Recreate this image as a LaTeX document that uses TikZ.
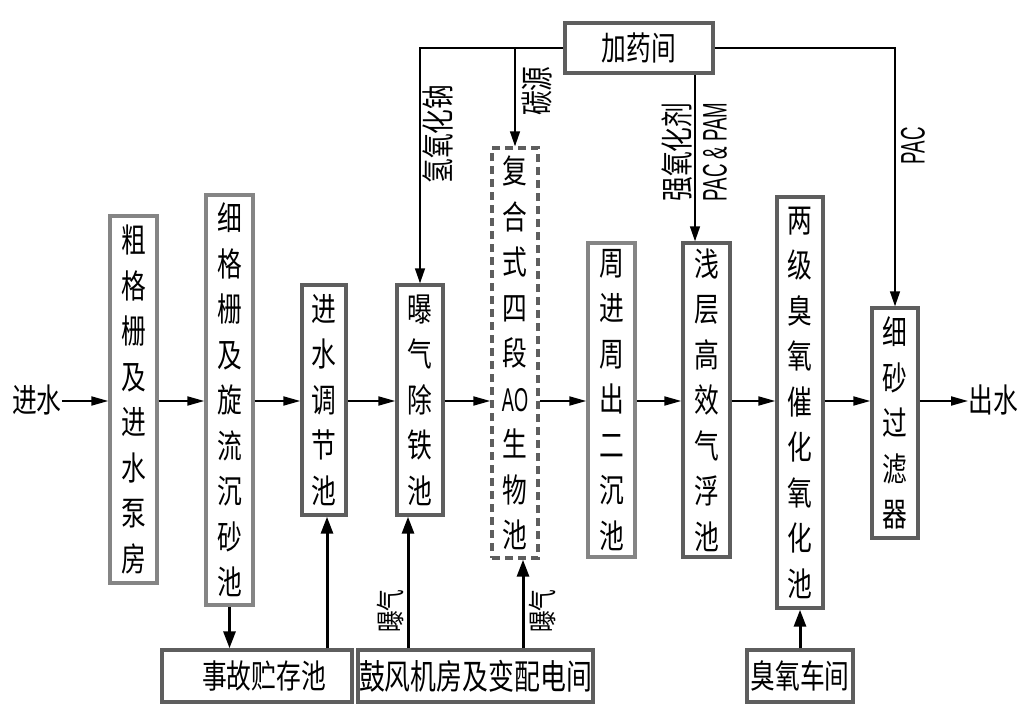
\documentclass[tikz,border=0pt]{standalone}
\usepackage{fontspec}
\newfontfamily\cjk[FakeStretch=0.75]{Noto Sans CJK SC}
\newfontfamily\narrowlat[FakeStretch=0.55]{Liberation Sans}
\usetikzlibrary{arrows.meta}
\definecolor{lightbox}{HTML}{858585}
\definecolor{darkbox}{HTML}{5E5E5E}
\begin{document}
\begin{tikzpicture}[x=1pt,y=-1pt,
  box/.style={draw=darkbox, line width=3.4pt, fill=white, inner sep=0pt, align=center,
    font=\cjk\fontsize{33}{45.5}\selectfont},
  lbox/.style={box, draw=lightbox},
  dbox/.style={box, dash pattern=on 8pt off 5pt},
  hbox/.style={draw=darkbox, line width=3.4pt, fill=white, inner sep=0pt,
    font=\cjk\fontsize{33}{33}\selectfont},
  lab/.style={inner sep=0pt, font=\cjk\fontsize{33}{33}\selectfont},
  slab/.style={inner sep=0pt, font=\cjk\fontsize{29}{29}\selectfont},
  latlab/.style={inner sep=0pt, font=\narrowlat\fontsize{34}{34}\selectfont},
  mainarr/.style={line width=1.9pt, -{Triangle[length=17pt,width=9pt]}},
  toparr/.style={line width=1.4pt, -{Triangle[length=15pt,width=10pt]}},
  botarr/.style={line width=3pt, -{Triangle[length=17pt,width=12pt]}}
]
\fill[white] (0,0) rectangle (1024,709);
\useasboundingbox (0,0) rectangle (1024,709);

% process boxes
\node[lbox, minimum width=47, minimum height=367] (b1) at (133.5,399.5)
  {粗\\格\\栅\\及\\进\\水\\泵\\房};
\node[lbox, minimum width=47, minimum height=410] (b2) at (229.5,400)
  {细\\格\\栅\\及\\旋\\流\\沉\\砂\\池};
\node[box, minimum width=44, minimum height=230] (b3) at (324,400)
  {进\\水\\调\\节\\池};
\node[box, minimum width=46, minimum height=230] (b4) at (420,400)
  {曝\\气\\除\\铁\\池};
\node[dbox, minimum width=46, minimum height=410] (b5) at (515,353)
  {复\\合\\式\\四\\段\\{\narrowlat AO}\\生\\物\\池};
\node[lbox, minimum width=47, minimum height=314] (b6) at (611.5,400)
  {周\\进\\周\\出\\二\\沉\\池};
\node[box, minimum width=47, minimum height=314] (b7) at (706.5,400)
  {浅\\层\\高\\效\\气\\浮\\池};
\node[box, minimum width=46, minimum height=411] (b8) at (800,402.5)
  {两\\级\\臭\\氧\\催\\化\\氧\\化\\池};
\node[box, minimum width=46, minimum height=230] (b9) at (895,423)
  {细\\砂\\过\\滤\\器};

% auxiliary buildings
\node[hbox, minimum width=148, minimum height=50] (jy) at (639,48) {加药间};
\node[hbox, minimum width=190, minimum height=52] (sg) at (257,676) {\hspace*{14pt}事故贮存池};
\node[hbox, minimum width=235, minimum height=52, font=\cjk\fontsize{34.5}{34.5}\selectfont] (gf) at (475.5,676) {鼓风机房及变配电间};
\node[hbox, minimum width=106, minimum height=52] (cy) at (800,676) {臭氧车间};

% inlet / outlet
\node[lab] (in) at (37,400) {进水};
\node[lab] (out) at (993,400) {出水};
\coordinate (ml) at (0,401);

% main flow
\draw[mainarr] (in.east |- ml) -- (b1.west |- ml);
\draw[mainarr] (b1.east |- ml) -- (b2.west |- ml);
\draw[mainarr] (b2.east |- ml) -- (b3.west |- ml);
\draw[mainarr] (b3.east |- ml) -- (b4.west |- ml);
\draw[mainarr] (b4.east |- ml) -- (b5.west |- ml);
\draw[mainarr] (b5.east |- ml) -- (b6.west |- ml);
\draw[mainarr] (b6.east |- ml) -- (b7.west |- ml);
\draw[mainarr] (b7.east |- ml) -- (b8.west |- ml);
\draw[mainarr] (b8.east |- ml) -- (b9.west |- ml);
\draw[mainarr] (b9.east |- ml) -- (out.west |- ml);

% dosing lines
\draw[toparr] (jy.west) -| (b4.north);
\draw[toparr] (b5.north |- jy.west) -- (b5.north);
\draw[toparr] (jy.east) -| (b9.north);
\draw[toparr] ([xshift=-11.5pt]b7.north |- jy.south) -- ([xshift=-11.5pt]b7.north);

% dosing labels
\node[lab, rotate=90] (l1) at (438,134) {氢氧化钠};
\node[lab, rotate=90] (l2) at (537,91) {碳源};
\node[lab, rotate=90] (l3) at (677,152) {强氧化剂};
\node[latlab, rotate=90] (l4) at (715,152) {PAC \& PAM};
\node[latlab, rotate=90] (l5) at (913,146) {PAC};

% bottom connections
\draw[botarr] (b2.south) -- (b2.south |- sg.north);
\draw[botarr] ([xshift=3pt]b3.south |- sg.north) -- ([xshift=3pt]b3.south);
\draw[botarr] ([xshift=-12pt]b4.south |- gf.north) -- ([xshift=-12pt]b4.south);
\draw[botarr] ([xshift=8pt]b5.south |- gf.north) -- ([xshift=8pt]b5.south);
\draw[botarr] (cy.north) -- (b8.south);

\node[slab, rotate=90] (a1) at (390,611) {曝气};
\node[slab, rotate=90] (a2) at (542,611) {曝气};
\end{tikzpicture}
\end{document}
